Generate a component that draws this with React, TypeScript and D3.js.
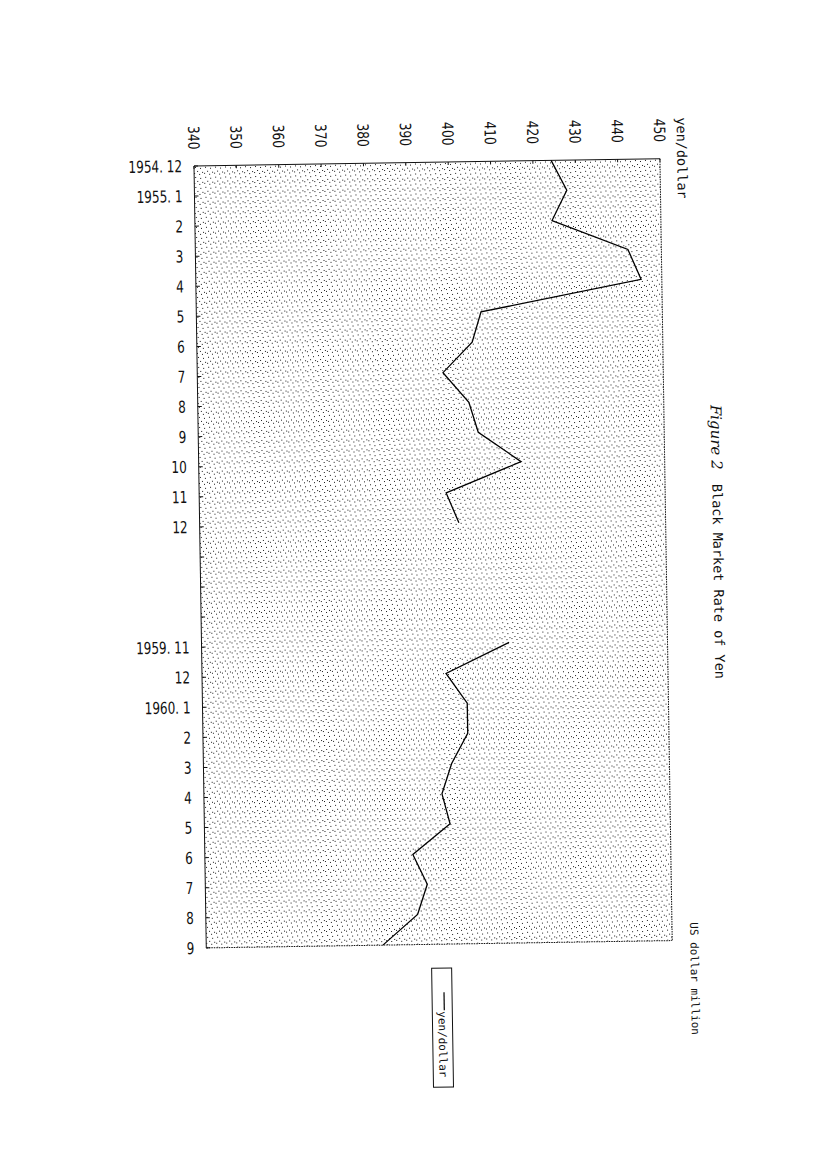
import React from 'react';
import * as d3 from 'd3';

// month labels down the left side (blank rows = gap between 1955 and 1959)
const categories = [
  '1954. 12', '1955. 1', '2', '3', '4', '5', '6', '7', '8', '9', '10', '11', '12',
  '', '', '',
  '1959. 11', '12', '1960. 1', '2', '3', '4', '5', '6', '7', '8', '9',
];

// black market rate, yen per dollar (null = no data)
const rates: (number | null)[] = [
  424.3, 427.9, 424.3, 442.1, 445.1, 407.2, 405.0, 398.0, 404.0, 406.1, 416.1, 398.3, 401.2,
  null, null, null,
  412.6, 397.6, 402.5, 402.5, 398.6, 396.2, 398.0, 389.1, 392.4, 390.0, 381.7,
];

const valueTicks = [340, 350, 360, 370, 380, 390, 400, 410, 420, 430, 440, 450];

const NUM_FONT = '"Liberation Sans Narrow", "DejaVu Sans Condensed", sans-serif';
const TXT_FONT = '"DejaVu Sans Mono", "Liberation Mono", monospace';

export default function App() {
  const W = 466;
  const H = 782;

  const x = d3.scaleLinear().domain([340, 450]).range([0, W]);
  const y = d3.scalePoint<number>()
    .domain(categories.map((_, i) => i))
    .range([0, H]);

  const line = d3.line<number | null>()
    .defined(d => d != null)
    .x(d => x(d as number))
    .y((_, i) => y(i) as number);

  return (
    <svg
      width={827}
      height={1170}
      style={{ position: 'absolute', left: 0, top: 0, background: '#fff' }}
    >
      <defs>
        <pattern id="stipple" width="10" height="10" patternUnits="userSpaceOnUse">
          <rect x="1" y="1" width="1" height="1" fill="#000" />
          <rect x="6" y="2" width="1" height="1" fill="#000" />
          <rect x="3" y="5" width="1" height="1" fill="#000" />
          <rect x="8" y="6" width="1" height="1" fill="#000" />
          <rect x="5" y="8" width="1" height="1" fill="#000" />
          <rect x="0" y="7" width="1" height="1" fill="#000" />
        </pattern>
      </defs>

      {/* whole scanned page is tilted a little */}
      <g transform="translate(194,166) rotate(-0.9)">
        <rect x={0} y={0} width={W} height={H} fill="url(#stipple)" opacity={0.9} />

        {/* frame */}
        <line x1={0} y1={0} x2={W} y2={0} stroke="#111" strokeWidth={1} />
        <line x1={0} y1={0} x2={0} y2={H} stroke="#111" strokeWidth={1} />
        <line x1={W} y1={0} x2={W} y2={H} stroke="#111" strokeWidth={1} strokeDasharray="1.5,1" />
        <line x1={0} y1={H} x2={W} y2={H} stroke="#111" strokeWidth={1} strokeDasharray="1.5,1" />

        {/* value axis across the top, labels turned */}
        {valueTicks.map(t => (
          <g key={t} transform={`translate(${x(t)},0)`}>
            <line y1={0} y2={3} stroke="#111" />
            <text
              transform="translate(0,-40) rotate(90) scale(0.88,1)"
              dy="0.35em"
              fontFamily={NUM_FONT}
              fontSize={15.5}
              fill="#111"
            >
              {t}
            </text>
          </g>
        ))}
        <text
          transform={`translate(${W + 22},-41) rotate(90)`}
          dy="0.35em"
          fontFamily={TXT_FONT}
          fontSize={13.5}
          fill="#111"
        >
          yen/dollar
        </text>

        {/* month axis down the left */}
        {categories.map((c, i) => (
          <g key={i} transform={`translate(0,${y(i)})`}>
            <line x1={0} x2={4} stroke="#111" />
            <text
              transform="translate(-12,0) scale(0.81,1)"
              dy="0.36em"
              textAnchor="end"
              fontFamily={NUM_FONT}
              fontSize={16.5}
              fill="#111"
            >
              {c}
            </text>
          </g>
        ))}

        {/* series */}
        <path d={line(rates) ?? ''} fill="none" stroke="#000" strokeWidth={1.3} />

        {/* title */}
        <text
          transform={`translate(${W + 52},247) rotate(90)`}
          dy="0.35em"
          fontFamily="'DejaVu Serif', serif"
          fontStyle="italic"
          fontSize={15}
          fill="#111"
        >
          Figure 2
        </text>
        <text
          transform={`translate(${W + 52},326) rotate(90)`}
          dy="0.35em"
          fontFamily={TXT_FONT}
          fontSize={13.5}
          fill="#111"
        >
          Black Market Rate of Yen
        </text>

        {/* right-hand unit note */}
        <text
          transform={`translate(${W + 22},764) rotate(90)`}
          dy="0.35em"
          fontFamily={TXT_FONT}
          fontSize={11}
          fill="#111"
        >
          US dollar million
        </text>

        {/* legend */}
        <g transform="translate(236,806)">
          <rect x={-11} y={0} width={20} height={119} fill="none" stroke="#111" strokeWidth={1} />
          <line x1={1} y1={24} x2={1} y2={42} stroke="#000" strokeWidth={1.2} />
          <text
            transform="translate(-1,43) rotate(90)"
            dy="0.35em"
            fontFamily={TXT_FONT}
            fontSize={11}
            fill="#111"
          >
            yen/dollar
          </text>
        </g>
      </g>
    </svg>
  );
}
